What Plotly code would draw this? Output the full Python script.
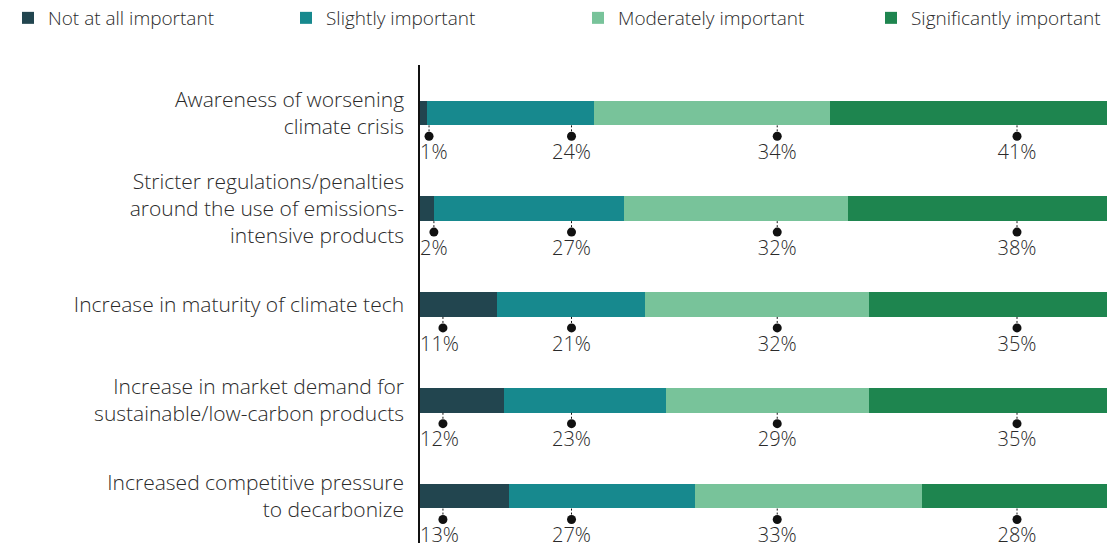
import plotly.graph_objects as go

categories = [
    "Awareness of worsening<br>climate crisis",
    "Stricter regulations/penalties<br>around the use of emissions-<br>intensive products",
    "Increase in maturity of climate tech",
    "Increase in market demand for<br>sustainable/low-carbon products",
    "Increased competitive pressure<br>to decarbonize",
]
series_names = ["Not at all important", "Slightly important", "Moderately important", "Significantly important"]
not_at_all = [1, 2, 11, 12, 13]
slightly = [24, 27, 21, 23, 27]
moderately = [34, 32, 32, 29, 33]
significantly = [41, 38, 35, 35, 28]
colors = ["#22454F", "#17898E", "#78C39A", "#1E854F"]

series = [not_at_all, slightly, moderately, significantly]
n = len(categories)
totals = [sum(s[i] for s in series) for i in range(n)]

# fixed x positions of the callout labels (in % of bar)
label_x_fixed = [None, 21.8, 51.4, 85.9]
legend_x_px = [0, 278, 570, 863]

FONT = "Open Sans"
TXT = "#2a2a2a"
W, H = 1115, 543

fig = go.Figure()
ys = list(range(n))
legend_ids = ["legend", "legend2", "legend3", "legend4"]
for name, vals, col, lid in zip(series_names, series, colors, legend_ids):
    fig.add_trace(go.Bar(
        y=ys, x=[v / t * 100 for v, t in zip(vals, totals)], name=name,
        orientation="h", marker=dict(color=col, line=dict(width=0)),
        width=0.255, hoverinfo="skip", legend=lid,
    ))

# callouts
for i in range(n):
    for k, vals in enumerate(series):
        if k == 0:
            xp = min(max(vals[i], 1.3), 3.3)
            tx, tpos = 0.0, "middle right"
        else:
            xp = label_x_fixed[k]
            tx, tpos = xp, "middle center"
        fig.add_trace(go.Scatter(
            x=[xp, xp], y=[i + 0.13, i + 0.22], mode="lines",
            line=dict(color="#111", width=1, dash="2px,2px"),
            showlegend=False, hoverinfo="skip", cliponaxis=False,
        ))
        fig.add_trace(go.Scatter(
            x=[xp], y=[i + 0.244], mode="markers",
            marker=dict(color="#111", size=9),
            showlegend=False, hoverinfo="skip", cliponaxis=False,
        ))
        fig.add_trace(go.Scatter(
            x=[tx], y=[i + 0.43], mode="text", text=[f"{vals[i]}%"],
            textposition=tpos,
            textfont=dict(family=FONT, size=20, color=TXT, weight=300),
            showlegend=False, hoverinfo="skip", cliponaxis=False,
        ))

legend_common = dict(orientation="h", xref="container", yref="container",
                     y=1 - 10 / H, xanchor="left", yanchor="middle",
                     font=dict(family=FONT, size=19, color=TXT, weight=300),
                     itemwidth=30, bgcolor="rgba(0,0,0,0)")
legends = {}
for lid, px in zip(legend_ids, legend_x_px):
    legends[lid] = dict(legend_common, x=px / W)

fig.update_layout(
    barmode="stack",
    width=W, height=H,
    margin=dict(l=412, r=8, t=57, b=7, autoexpand=False),
    paper_bgcolor="white", plot_bgcolor="white",
    font=dict(family=FONT, color=TXT, weight=300),
    xaxis=dict(range=[0, 100], showgrid=False, zeroline=False, showticklabels=False,
               showline=False, fixedrange=True),
    yaxis=dict(range=[n - 0.5, -0.5], tickvals=ys, ticktext=categories,
               showgrid=False, zeroline=False, showline=True, linecolor="#111",
               linewidth=1.5, ticks="", ticklabelstandoff=10, automargin=False,
               tickfont=dict(family=FONT, size=21, color=TXT, weight=300)),
    showlegend=True,
    **legends,
)

fig.write_html("out.html")
